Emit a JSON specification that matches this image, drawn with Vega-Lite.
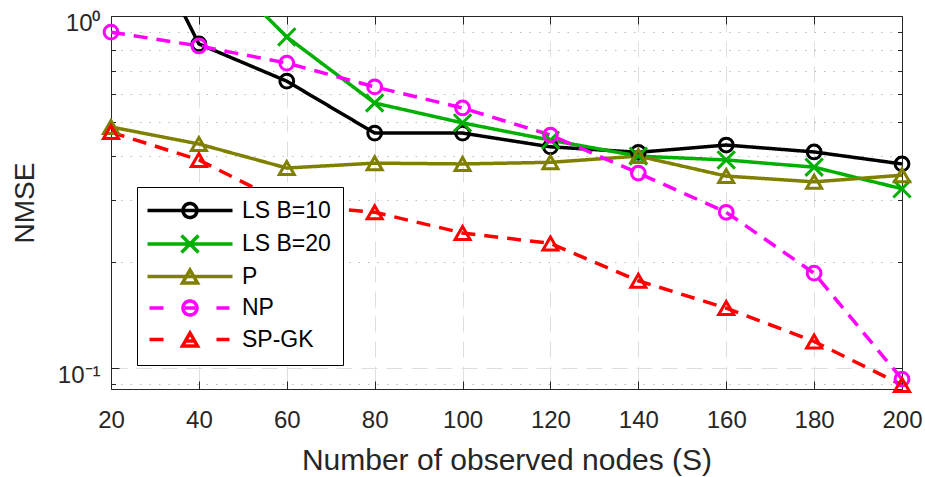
{
  "$schema": "https://vega.github.io/schema/vega-lite/v6.json",
  "width": 791,
  "height": 373,
  "autosize": {"type": "none"},
  "padding": {"left": 111, "top": 16, "right": 23, "bottom": 88},
  "background": "white",
  "config": {"view": {"stroke": null}, "font": "Liberation Sans"},
  "data": {"values": [
    {"S": 20, "series": "LS B=10", "nmse": 2.6},
    {"S": 40, "series": "LS B=10", "nmse": 0.833},
    {"S": 60, "series": "LS B=10", "nmse": 0.653},
    {"S": 80, "series": "LS B=10", "nmse": 0.465},
    {"S": 100, "series": "LS B=10", "nmse": 0.465},
    {"S": 120, "series": "LS B=10", "nmse": 0.425},
    {"S": 140, "series": "LS B=10", "nmse": 0.41},
    {"S": 160, "series": "LS B=10", "nmse": 0.43},
    {"S": 180, "series": "LS B=10", "nmse": 0.411},
    {"S": 200, "series": "LS B=10", "nmse": 0.38},
    {"S": 20, "series": "LS B=20", "nmse": 2.2},
    {"S": 40, "series": "LS B=20", "nmse": 1.55},
    {"S": 60, "series": "LS B=20", "nmse": 0.872},
    {"S": 80, "series": "LS B=20", "nmse": 0.566},
    {"S": 100, "series": "LS B=20", "nmse": 0.497},
    {"S": 120, "series": "LS B=20", "nmse": 0.444},
    {"S": 140, "series": "LS B=20", "nmse": 0.4},
    {"S": 160, "series": "LS B=20", "nmse": 0.39},
    {"S": 180, "series": "LS B=20", "nmse": 0.372},
    {"S": 200, "series": "LS B=20", "nmse": 0.323},
    {"S": 20, "series": "P", "nmse": 0.484},
    {"S": 40, "series": "P", "nmse": 0.433},
    {"S": 60, "series": "P", "nmse": 0.37},
    {"S": 80, "series": "P", "nmse": 0.382},
    {"S": 100, "series": "P", "nmse": 0.38},
    {"S": 120, "series": "P", "nmse": 0.384},
    {"S": 140, "series": "P", "nmse": 0.4},
    {"S": 160, "series": "P", "nmse": 0.351},
    {"S": 180, "series": "P", "nmse": 0.338},
    {"S": 200, "series": "P", "nmse": 0.353},
    {"S": 20, "series": "NP", "nmse": 0.9},
    {"S": 40, "series": "NP", "nmse": 0.822},
    {"S": 60, "series": "NP", "nmse": 0.735},
    {"S": 80, "series": "NP", "nmse": 0.629},
    {"S": 100, "series": "NP", "nmse": 0.548},
    {"S": 120, "series": "NP", "nmse": 0.459},
    {"S": 140, "series": "NP", "nmse": 0.358},
    {"S": 160, "series": "NP", "nmse": 0.277},
    {"S": 180, "series": "NP", "nmse": 0.186},
    {"S": 200, "series": "NP", "nmse": 0.093},
    {"S": 20, "series": "SP-GK", "nmse": 0.468},
    {"S": 40, "series": "SP-GK", "nmse": 0.39},
    {"S": 60, "series": "SP-GK", "nmse": 0.292},
    {"S": 80, "series": "SP-GK", "nmse": 0.277},
    {"S": 100, "series": "SP-GK", "nmse": 0.242},
    {"S": 120, "series": "SP-GK", "nmse": 0.226},
    {"S": 140, "series": "SP-GK", "nmse": 0.177},
    {"S": 160, "series": "SP-GK", "nmse": 0.148},
    {"S": 180, "series": "SP-GK", "nmse": 0.119},
    {"S": 200, "series": "SP-GK", "nmse": 0.0895}
  ]},
  "encoding": {
    "color": {
      "field": "series", "type": "nominal",
      "scale": {"domain": ["LS B=10", "LS B=20", "P", "NP", "SP-GK"], "range": ["#000000", "#00B000", "#808000", "#FF00FF", "#FF0000"]},
      "legend": {
        "orient": "none", "legendX": 26, "legendY": 171, "title": null,
        "padding": 12, "rowPadding": 3.5, "symbolSize": 4, "symbolOffset": -13, "labelOffset": 83,
        "labelExpr": "datum.label + '\u2002'",
        "labelFont": "Liberation Sans", "labelFontSize": 23, "labelColor": "black",
        "strokeColor": "black", "fillColor": "white", "cornerRadius": 0, "symbolStrokeWidth": 3.5,
        "encode": {"symbols": {"update": {
          "shape": {"signal": "datum.value === 'LS B=10' ? 'M0,0H85M35.5,0A7,7,0,1,1,49.5,0A7,7,0,1,1,35.5,0' : datum.value === 'LS B=20' ? 'M0,0H85M34,-8.5L51,8.5M34,8.5L51,-8.5' : datum.value === 'P' ? 'M0,0H85M42.5,-6.5L35,6.5L50,6.5Z' : datum.value === 'NP' ? 'M2,0H16M69,0H82M37.5,0H47.5M35.5,0A7,7,0,1,1,49.5,0A7,7,0,1,1,35.5,0' : 'M2,0H16M69,0H82M38,1.5H47M42.5,-6.5L35,6.5L50,6.5Z'"},
          "stroke": {"scale": "color", "field": "value"},
          "fill": {"value": "transparent"},
          "strokeDash": {"value": [1, 0]},
          "size": {"value": 4},
          "strokeWidth": {"value": 3.5},
          "opacity": {"value": 1}
        }}}
      }
    }
  },
  "layer": [
    {
      "mark": {"type": "line", "clip": true, "strokeWidth": 3.5, "strokeJoin": "round"},
      "encoding": {
        "x": {
          "field": "S", "type": "quantitative",
          "scale": {"domain": [20, 200], "nice": false, "zero": false},
          "axis": {
            "orient": "bottom", "values": [20, 40, 60, 80, 100, 120, 140, 160, 180, 200],
            "title": "Number of observed nodes (S)",
            "grid": true, "gridDash": [16, 9], "gridColor": "#DEDEDE", "gridWidth": 1,
            "tickSize": -8, "tickColor": "#262626", "domainColor": "#262626", "domainWidth": 1,
            "labelPadding": 27.5, "labelFontSize": 24, "labelFont": "Liberation Sans", "labelColor": "#262626",
            "labelFlush": false, "labelOverlap": false,
            "titleFont": "Liberation Sans", "titleFontSize": 30, "titleFontWeight": "normal", "titleColor": "#262626", "titlePadding": 13
          }
        },
        "y": {
          "field": "nmse", "type": "quantitative",
          "scale": {"type": "log", "domain": [0.0872, 1], "nice": false},
          "axis": {
            "orient": "left", "values": [0.09, 0.1, 0.2, 0.3, 0.4, 0.5, 0.6, 0.7, 0.8, 0.9, 1],
            "labelExpr": "datum.value === 1 ? '10\u2070' : datum.value === 0.1 ? '10\u207b\u00b9' : ''",
            "title": "NMSE",
            "grid": true,
            "gridDash": {"condition": {"test": "datum.value === 0.1 || datum.value === 1", "value": [16, 9]}, "value": [1.5, 8]},
            "gridColor": {"condition": {"test": "datum.value === 0.1 || datum.value === 1", "value": "#DEDEDE"}, "value": "#BDBDBD"},
            "tickSize": {"condition": {"test": "datum.value === 0.1 || datum.value === 1", "value": -8}, "value": -4.5},
            "tickColor": "#262626", "domainColor": "#262626", "domainWidth": 1,
            "labelPadding": 19, "labelOffset": 7, "labelFontSize": 24, "labelFont": "Liberation Sans", "labelColor": "#262626",
            "labelFlush": false, "labelOverlap": false,
            "titleFont": "Liberation Sans", "titleFontSize": 28, "titleFontWeight": "normal", "titleColor": "#262626", "titlePadding": 18
          }
        },
        "strokeDash": {
          "field": "series", "type": "nominal",
          "scale": {"range": [[1, 0], [1, 0], [14, 9], [1, 0], [14, 9]]},
          "legend": null
        }
      }
    },
    {
      "transform": [{"filter": "datum.nmse <= 1"}],
      "mark": {"type": "point", "filled": false, "strokeWidth": 3, "opacity": 1},
      "encoding": {
        "x": {
          "field": "S", "type": "quantitative",
          "scale": {"domain": [20, 200], "nice": false, "zero": false},
          "axis": {
            "orient": "top", "values": [20, 40, 60, 80, 100, 120, 140, 160, 180, 200],
            "labels": false, "title": null, "grid": false,
            "tickSize": -8, "tickColor": "#262626", "domainColor": "#262626", "domainWidth": 1
          }
        },
        "y": {
          "field": "nmse", "type": "quantitative",
          "scale": {"type": "log", "domain": [0.0872, 1], "nice": false},
          "axis": {
            "orient": "right", "values": [0.09, 0.1, 0.2, 0.3, 0.4, 0.5, 0.6, 0.7, 0.8, 0.9, 1],
            "labels": false, "title": null, "grid": false,
            "tickSize": {"condition": {"test": "datum.value === 0.1 || datum.value === 1", "value": -8}, "value": -4.5},
            "tickColor": "#262626", "domainColor": "#262626", "domainWidth": 1
          }
        },
        "shape": {
          "field": "series", "type": "nominal",
          "scale": {"range": ["circle", "M-1,-1L1,1M-1,1L1,-1", "circle", "triangle-up", "triangle-up"]},
          "legend": null
        },
        "size": {
          "field": "series", "type": "nominal",
          "scale": {"type": "ordinal", "range": [190, 300, 190, 225, 225]},
          "legend": null
        }
      }
    }
  ],
  "resolve": {"axis": {"x": "independent", "y": "independent"}}
}
